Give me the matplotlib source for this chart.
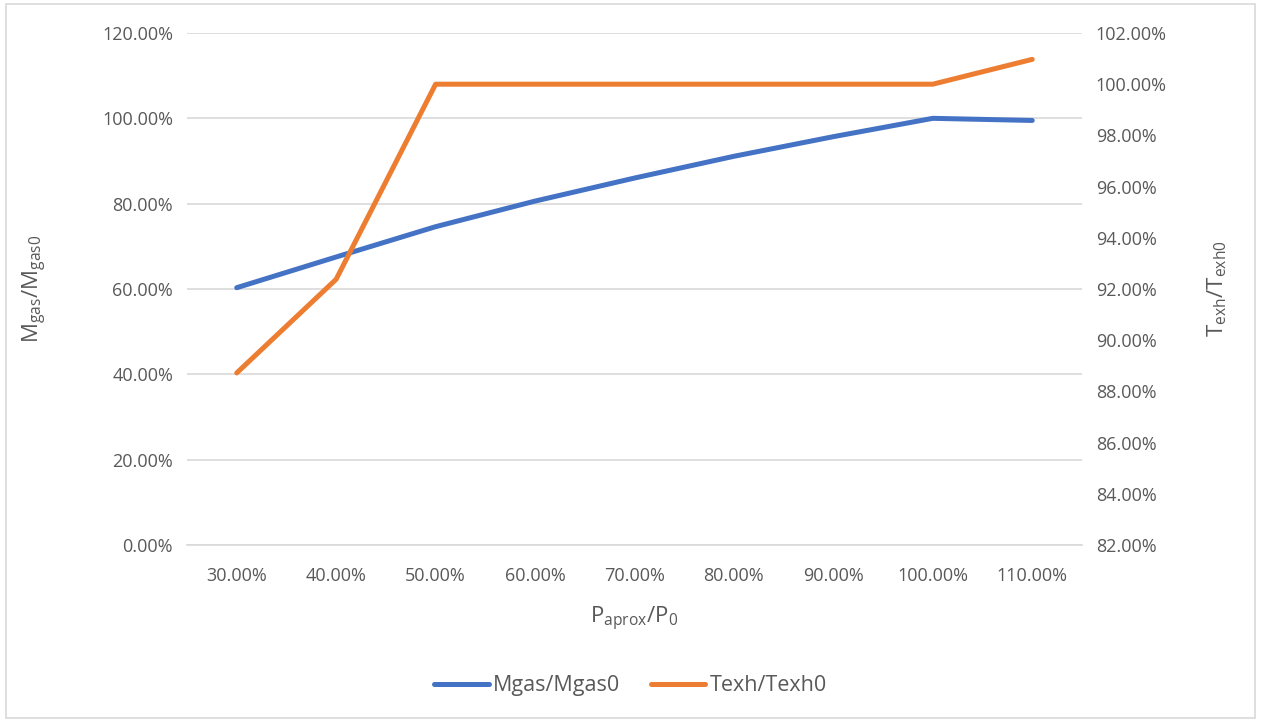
import matplotlib
matplotlib.use("Agg")
import matplotlib.pyplot as plt
from matplotlib.patches import Rectangle
from matplotlib.ticker import FuncFormatter, MultipleLocator

# load ratio P_aprox/P0 and the two normalised responses (percent)
load_ratio = ["30.00%", "40.00%", "50.00%", "60.00%", "70.00%",
              "80.00%", "90.00%", "100.00%", "110.00%"]
mgas_ratio = [60.3, 67.5, 74.6, 80.6, 86.0, 91.1, 95.7, 100.0, 99.5]
texh_ratio = [88.72, 92.38, 100.0, 100.0, 100.0, 100.0, 100.0, 100.0, 100.97]

BLUE = "#4472C4"
ORANGE = "#ED7D31"
GRID = "#D9D9D9"
TEXT = "#595959"

plt.rcParams["font.family"] = ["Open Sans", "DejaVu Sans"]
plt.rcParams["mathtext.fontset"] = "custom"
plt.rcParams["mathtext.rm"] = "Open Sans"

fig = plt.figure(figsize=(12.61, 7.22), dpi=100)
fig.patch.set_facecolor("white")
ax = fig.add_axes([0.1483, 0.2452, 0.7097, 0.7091])
ax2 = ax.twinx()

x = range(len(load_ratio))
h1, = ax.plot(x, mgas_ratio, color=BLUE, linewidth=3.6,
              solid_capstyle="round", solid_joinstyle="round", label="Mgas/Mgas0")
h2, = ax2.plot(x, texh_ratio, color=ORANGE, linewidth=3.6,
               solid_capstyle="round", solid_joinstyle="round", label="Texh/Texh0")

ax.set_xlim(-0.5, len(load_ratio) - 0.5)
ax.set_xticks(list(x))
ax.set_xticklabels(load_ratio)
ax.set_ylim(0, 120)
ax.yaxis.set_major_locator(MultipleLocator(20))
ax2.set_ylim(82, 102)
ax2.yaxis.set_major_locator(MultipleLocator(2))

pct = FuncFormatter(lambda v, _: f"{v:.2f}%")
ax.yaxis.set_major_formatter(pct)
ax2.yaxis.set_major_formatter(pct)

ax.grid(True, axis="y", color=GRID, linewidth=1.2)
ax.set_axisbelow(True)
for a in (ax, ax2):
    for s in ("top", "right", "left", "bottom"):
        a.spines[s].set_visible(False)
    a.tick_params(length=0, labelsize=13, labelcolor=TEXT)
ax.spines["bottom"].set_visible(True)
ax.spines["bottom"].set_color(GRID)
ax.spines["bottom"].set_linewidth(1.2)
ax.tick_params(axis="x", pad=16)
ax.tick_params(axis="y", pad=10)
ax2.tick_params(axis="y", pad=10)

ax.set_xlabel(r"P$_{\mathregular{aprox}}$/P$_{\mathregular{0}}$",
              fontsize=16, color=TEXT, labelpad=14)
ax.set_ylabel(r"M$_{\mathregular{gas}}$/M$_{\mathregular{gas0}}$",
              fontsize=16, color=TEXT, labelpad=38)
ax2.set_ylabel(r"T$_{\mathregular{exh}}$/T$_{\mathregular{exh0}}$",
               fontsize=16, color=TEXT, labelpad=28)

fig.legend(handles=[h1, h2], loc="center", bbox_to_anchor=(0.5, 0.05),
           ncol=2, frameon=False, fontsize=15.5, labelcolor=TEXT,
           handlelength=2.55, handletextpad=0.2, columnspacing=1.4)

fig.patches.append(Rectangle((0.005, 0.005), 0.99, 0.99, transform=fig.transFigure,
                             fill=False, edgecolor=GRID, linewidth=1.2))

fig.savefig("out.png", dpi=100, facecolor="white")
